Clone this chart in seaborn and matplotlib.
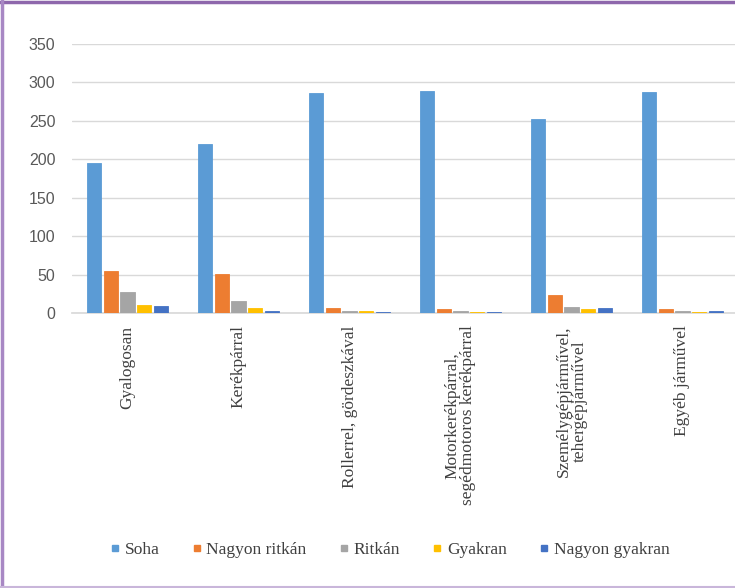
import matplotlib
matplotlib.use("Agg")
import matplotlib.pyplot as plt
import seaborn as sns
import pandas as pd
from matplotlib.lines import Line2D

categories = ["Gyalogosan", "Kerékpárral", "Rollerrel, gördeszkával",
              "Motorkerékpárral,\nsegédmotoros kerékpárral",
              "Személygépjárművel,\ntehergépjárművel", "Egyéb járművel"]
series = ["Soha", "Nagyon ritkán", "Ritkán", "Gyakran", "Nagyon gyakran"]
soha = [195, 220, 286, 289, 253, 287]
nagyon_ritkan = [55, 51, 7, 5, 24, 5]
ritkan = [27, 16, 2, 2, 8, 3]
gyakran = [10, 7, 2, 1, 5, 1]
nagyon_gyakran = [9, 3, 1, 1, 7, 2]
yticks = [0, 50, 100, 150, 200, 250, 300, 350]
colors = ["#5B9BD5", "#ED7D31", "#A5A5A5", "#FFC000", "#4472C4"]

rows = []
for s, vals in zip(series, [soha, nagyon_ritkan, ritkan, gyakran, nagyon_gyakran]):
    for c, v in zip(categories, vals):
        rows.append({"cat": c, "series": s, "value": v})
df = pd.DataFrame(rows)

sns.set_theme(style="white")
serif = ["Liberation Serif", "DejaVu Serif"]

fig = plt.figure(figsize=(7.35, 5.88), dpi=100)
ax = fig.add_axes([72/735, 1 - 313/588, 666/735, (313 - 44)/588])
sns.barplot(data=df, x="cat", y="value", hue="series", order=categories,
            hue_order=series, palette=colors, width=0.75, gap=0.14,
            saturation=1, ax=ax, legend=False, linewidth=0.6)
for p, col in zip(ax.patches, [c for c in colors for _ in categories]):
    p.set_edgecolor(col)
ax.set_ylim(0, 350)
ax.set_xlim(-0.5, 5.5)
ax.set_yticks(yticks)
ax.set_yticklabels([str(t) for t in yticks], color="#595959", fontsize=11.5,
                   family=["Liberation Sans", "DejaVu Sans"])
ax.yaxis.grid(True, color="#D9D9D9", linewidth=1)
ax.set_axisbelow(True)
for s in ["top", "right", "left"]:
    ax.spines[s].set_visible(False)
ax.spines["bottom"].set_color("#D9D9D9")
ax.spines["bottom"].set_zorder(0.5)
ax.tick_params(axis="both", length=0)
ax.tick_params(axis="y", pad=12)
ax.set_xlabel("")
ax.set_ylabel("")
ax.set_xticks(range(len(categories)))
ax.set_xticklabels(categories, rotation=90, fontsize=12.5, color="#404040",
                   family=serif, ha="center", va="top", multialignment="center",
                   linespacing=1.0)
ax.tick_params(axis="x", pad=9)

handles = [Line2D([0], [0], marker="s", linestyle="", markersize=5,
                  markerfacecolor=c, markeredgecolor=c) for c in colors]
fig.legend(handles, series, loc="center", bbox_to_anchor=(390/735, 1 - 550/588),
           ncol=5, frameon=False, handlelength=0.5, handletextpad=0.3,
           columnspacing=1.9, prop={"family": serif, "size": 12.5},
           labelcolor="#404040")

# purple frame
fig.add_artist(Line2D([0, 1], [1 - 1.5/588, 1 - 1.5/588], transform=fig.transFigure,
                      color="#8E67AC", linewidth=2.5))
fig.add_artist(Line2D([1.5/735, 1.5/735], [0, 1], transform=fig.transFigure,
                      color="#A888C4", linewidth=2.5))
fig.add_artist(Line2D([0, 1], [1/588, 1/588], transform=fig.transFigure,
                      color="#C9B6DA", linewidth=1.5))

fig.savefig("out.png", dpi=100)
